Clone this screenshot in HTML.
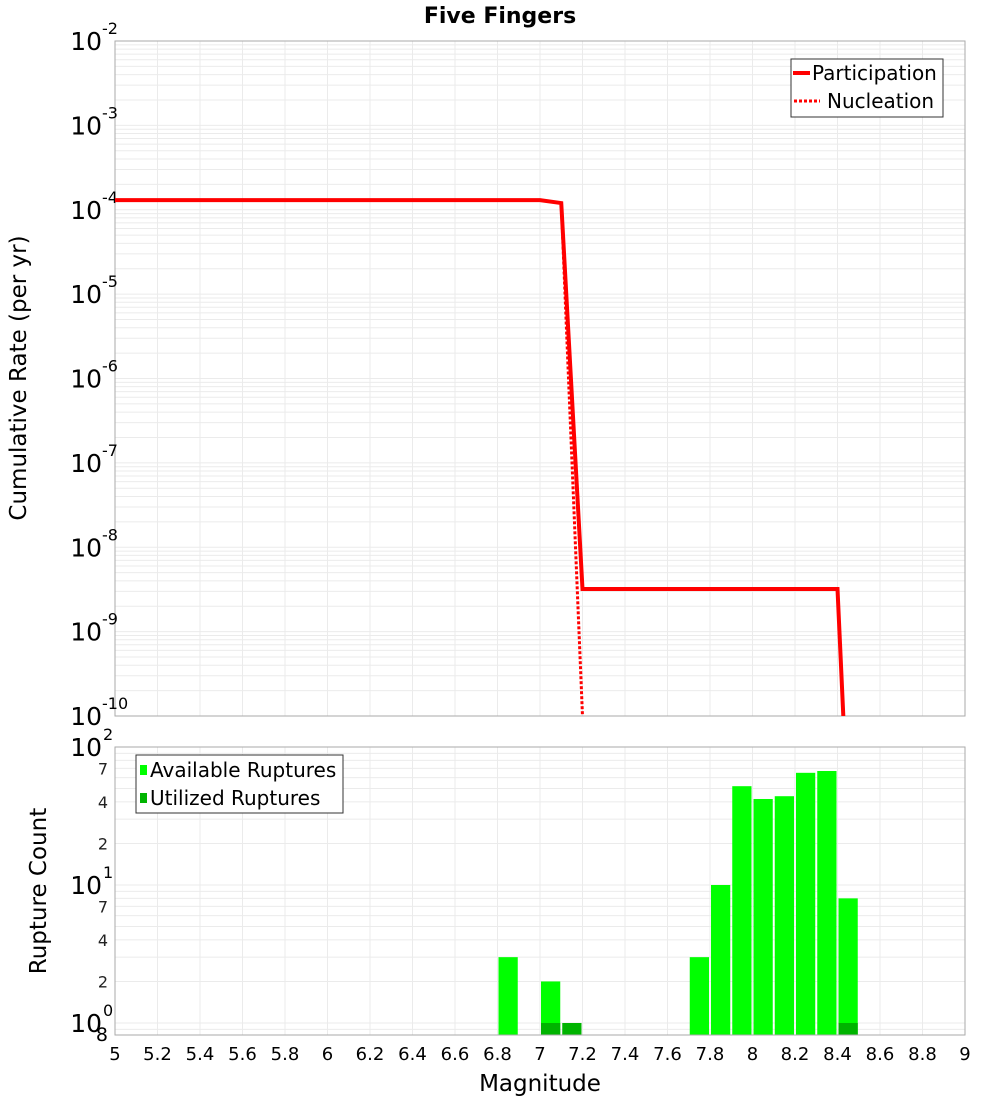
<!DOCTYPE html>
<html><head><meta charset="utf-8"><style>
html,body{margin:0;background:#fff;width:1000px;height:1100px;overflow:hidden;}
svg{display:block;font-family:"DejaVu Sans","Liberation Sans",sans-serif;}
</style></head><body>
<svg id="c" width="1000" height="1100" xmlns="http://www.w3.org/2000/svg"></svg>
<script>
// data
const magPart = [5.0, 7.0, 7.1, 7.2, 8.4, 8.5];
const ratePart = [1.3e-4, 1.3e-4, 1.2e-4, 3.2e-9, 3.2e-9, 1e-14];
const magNucl = [5.0, 7.0, 7.1, 7.2, 7.3];
const rateNucl = [1.3e-4, 1.3e-4, 1.2e-4, 1e-10, 1e-20];
const binCenters = [6.85, 7.05, 7.75, 7.85, 7.95, 8.05, 8.15, 8.25, 8.35, 8.45];
const availCounts = [3, 2, 3, 10, 52, 42, 44, 65, 67, 8];
const utilCenters = [7.05, 7.15, 8.45];
const utilCounts = [1, 1, 1];
const xTicks = [5,5.2,5.4,5.6,5.8,6,6.2,6.4,6.6,6.8,7,7.2,7.4,7.6,7.8,8,8.2,8.4,8.6,8.8,9];
const topDecades = [-10,-9,-8,-7,-6,-5,-4,-3,-2];
const botMinorLabels = [2,4,7,20,40,70];

const svg = document.getElementById('c');
const NS = 'http://www.w3.org/2000/svg';
function mk(tag, attrs, parent){const e=document.createElementNS(NS,tag);for(const k in attrs)e.setAttribute(k,attrs[k]);(parent||svg).appendChild(e);return e;}

const X0=115,X1=965;
const x = m => X0 + (m-5)/(9-5)*(X1-X0);
const TY0=41,TY1=716;
const yTop = v => TY0 + (-2 - Math.log10(v))/8*(TY1-TY0);
const BY0=747,BY1=1035,BDEC=138;
const yBot = v => BY0 + (2 - Math.log10(v))*BDEC;

let t=mk('text',{x:500,y:23,'text-anchor':'middle','font-size':22,'font-weight':'bold'});
t.textContent='Five Fingers';



const defs=mk('defs',{});
const cp1=mk('clipPath',{id:'ct'},defs);mk('rect',{x:X0,y:TY0,width:X1-X0,height:TY1-TY0},cp1);
const cp2=mk('clipPath',{id:'cb'},defs);mk('rect',{x:X0,y:BY0,width:X1-X0,height:BY1-BY0},cp2);

const gTop=mk('g',{'clip-path':'url(#ct)'});


for(const m of xTicks){mk('line',{x1:x(m),x2:x(m),y1:TY0,y2:TY1,stroke:'#ebebeb'},gTop);}
for(let d=-10;d<-2;d++){for(let k=1;k<10;k++){const y=yTop(k*Math.pow(10,d));mk('line',{x1:X0,x2:X1,y1:y,y2:y,stroke:'#ebebeb'},gTop);}}
mk('rect',{x:X0,y:TY0,width:X1-X0,height:TY1-TY0,fill:'none',stroke:'#aaa'});

for(const d of topDecades){
  const tx=mk('text',{x:102,y:yTop(Math.pow(10,d))+9,'text-anchor':'end','font-size':25});
  tx.textContent='10';
  
  
  const sp=mk('text',{x:102,y:yTop(Math.pow(10,d))-7,'font-size':16});
  sp.textContent=String(d);
  
  
}
t=mk('text',{x:0,y:0,'text-anchor':'middle','font-size':23,transform:'translate(26,378) rotate(-90)'});
t.textContent='Cumulative Rate (per yr)';



const gS=mk('g',{'clip-path':'url(#ct)'});
let pts=magNucl.map((m,i)=>x(m)+','+yTop(rateNucl[i])).join(' ');
let pl=mk('polyline',{points:pts,fill:'none',stroke:'#f00','stroke-width':3,'stroke-dasharray':'3,2'},gS);


pts=magPart.map((m,i)=>x(m)+','+yTop(ratePart[i])).join(' ');
pl=mk('polyline',{points:pts,fill:'none',stroke:'#f00','stroke-width':4},gS);



const lg=mk('g',{});


mk('rect',{x:791,y:59,width:152,height:58,fill:'#fff',stroke:'#333'},lg);
mk('line',{x1:793,x2:810,y1:73,y2:73,stroke:'#f00','stroke-width':4},lg);
mk('line',{x1:794,x2:820,y1:101,y2:101,stroke:'#f00','stroke-width':3,'stroke-dasharray':'3,2'},lg);
t=mk('text',{x:812,y:80,'font-size':20},lg);t.textContent='Participation';


t=mk('text',{x:827,y:108,'font-size':20},lg);t.textContent='Nucleation';



const gB=mk('g',{'clip-path':'url(#cb)'});


for(const m of xTicks){mk('line',{x1:x(m),x2:x(m),y1:BY0,y2:BY1,stroke:'#ebebeb'},gB);}
for(let d=-1;d<2;d++){for(let k=1;k<10;k++){const y=yBot(k*Math.pow(10,d));mk('line',{x1:X0,x2:X1,y1:y,y2:y,stroke:'#ebebeb'},gB);}}

const bw=x(5.1)-x(5.0);
binCenters.forEach((c,i)=>{
  const y=yBot(availCounts[i]);
  const r=mk('rect',{x:x(c)-bw/2+1,y:y,width:bw-2,height:BY1-y,fill:'#00ff00'},gB);
  
  
});
utilCenters.forEach((c,i)=>{
  const y=yBot(utilCounts[i]);
  const r=mk('rect',{x:x(c)-bw/2+1,y:y,width:bw-2,height:BY1-y,fill:'#00b400'},gB);
  
  
});
mk('rect',{x:X0,y:BY0,width:X1-X0,height:BY1-BY0,fill:'none',stroke:'#aaa'});

[0,1,2].forEach(d=>{
  const y=yBot(Math.pow(10,d));
  const tx=mk('text',{x:102,y:y+9,'text-anchor':'end','font-size':25});tx.textContent='10';
  
  
  const sp=mk('text',{x:103,y:y-7,'font-size':16});sp.textContent=String(d);
  
  
});
botMinorLabels.forEach(v=>{
  const tx=mk('text',{x:108,y:yBot(v)+6,'text-anchor':'end','font-size':16,fill:'#222'});
  tx.textContent=String(v).charAt(0);
  
  
});
t=mk('text',{x:108,y:1041,'text-anchor':'end','font-size':19});t.textContent='8';


t=mk('text',{x:0,y:0,'text-anchor':'middle','font-size':23,transform:'translate(46,891) rotate(-90)'});
t.textContent='Rupture Count';



const lb=mk('g',{});


mk('rect',{x:136,y:755,width:207,height:58,fill:'#fff',stroke:'#333'},lb);
mk('rect',{x:140,y:765,width:7,height:10,fill:'#00ff00'},lb);
mk('rect',{x:140,y:793,width:7,height:10,fill:'#00b400'},lb);
t=mk('text',{x:150,y:777,'font-size':20},lb);t.textContent='Available Ruptures';


t=mk('text',{x:150,y:805,'font-size':20},lb);t.textContent='Utilized Ruptures';



xTicks.forEach(m=>{
  const tx=mk('text',{x:x(m),y:1060,'text-anchor':'middle','font-size':18});
  tx.textContent=String(m);
  
  
});
t=mk('text',{x:540,y:1091,'text-anchor':'middle','font-size':23});t.textContent='Magnitude';


</script>
</body></html>
